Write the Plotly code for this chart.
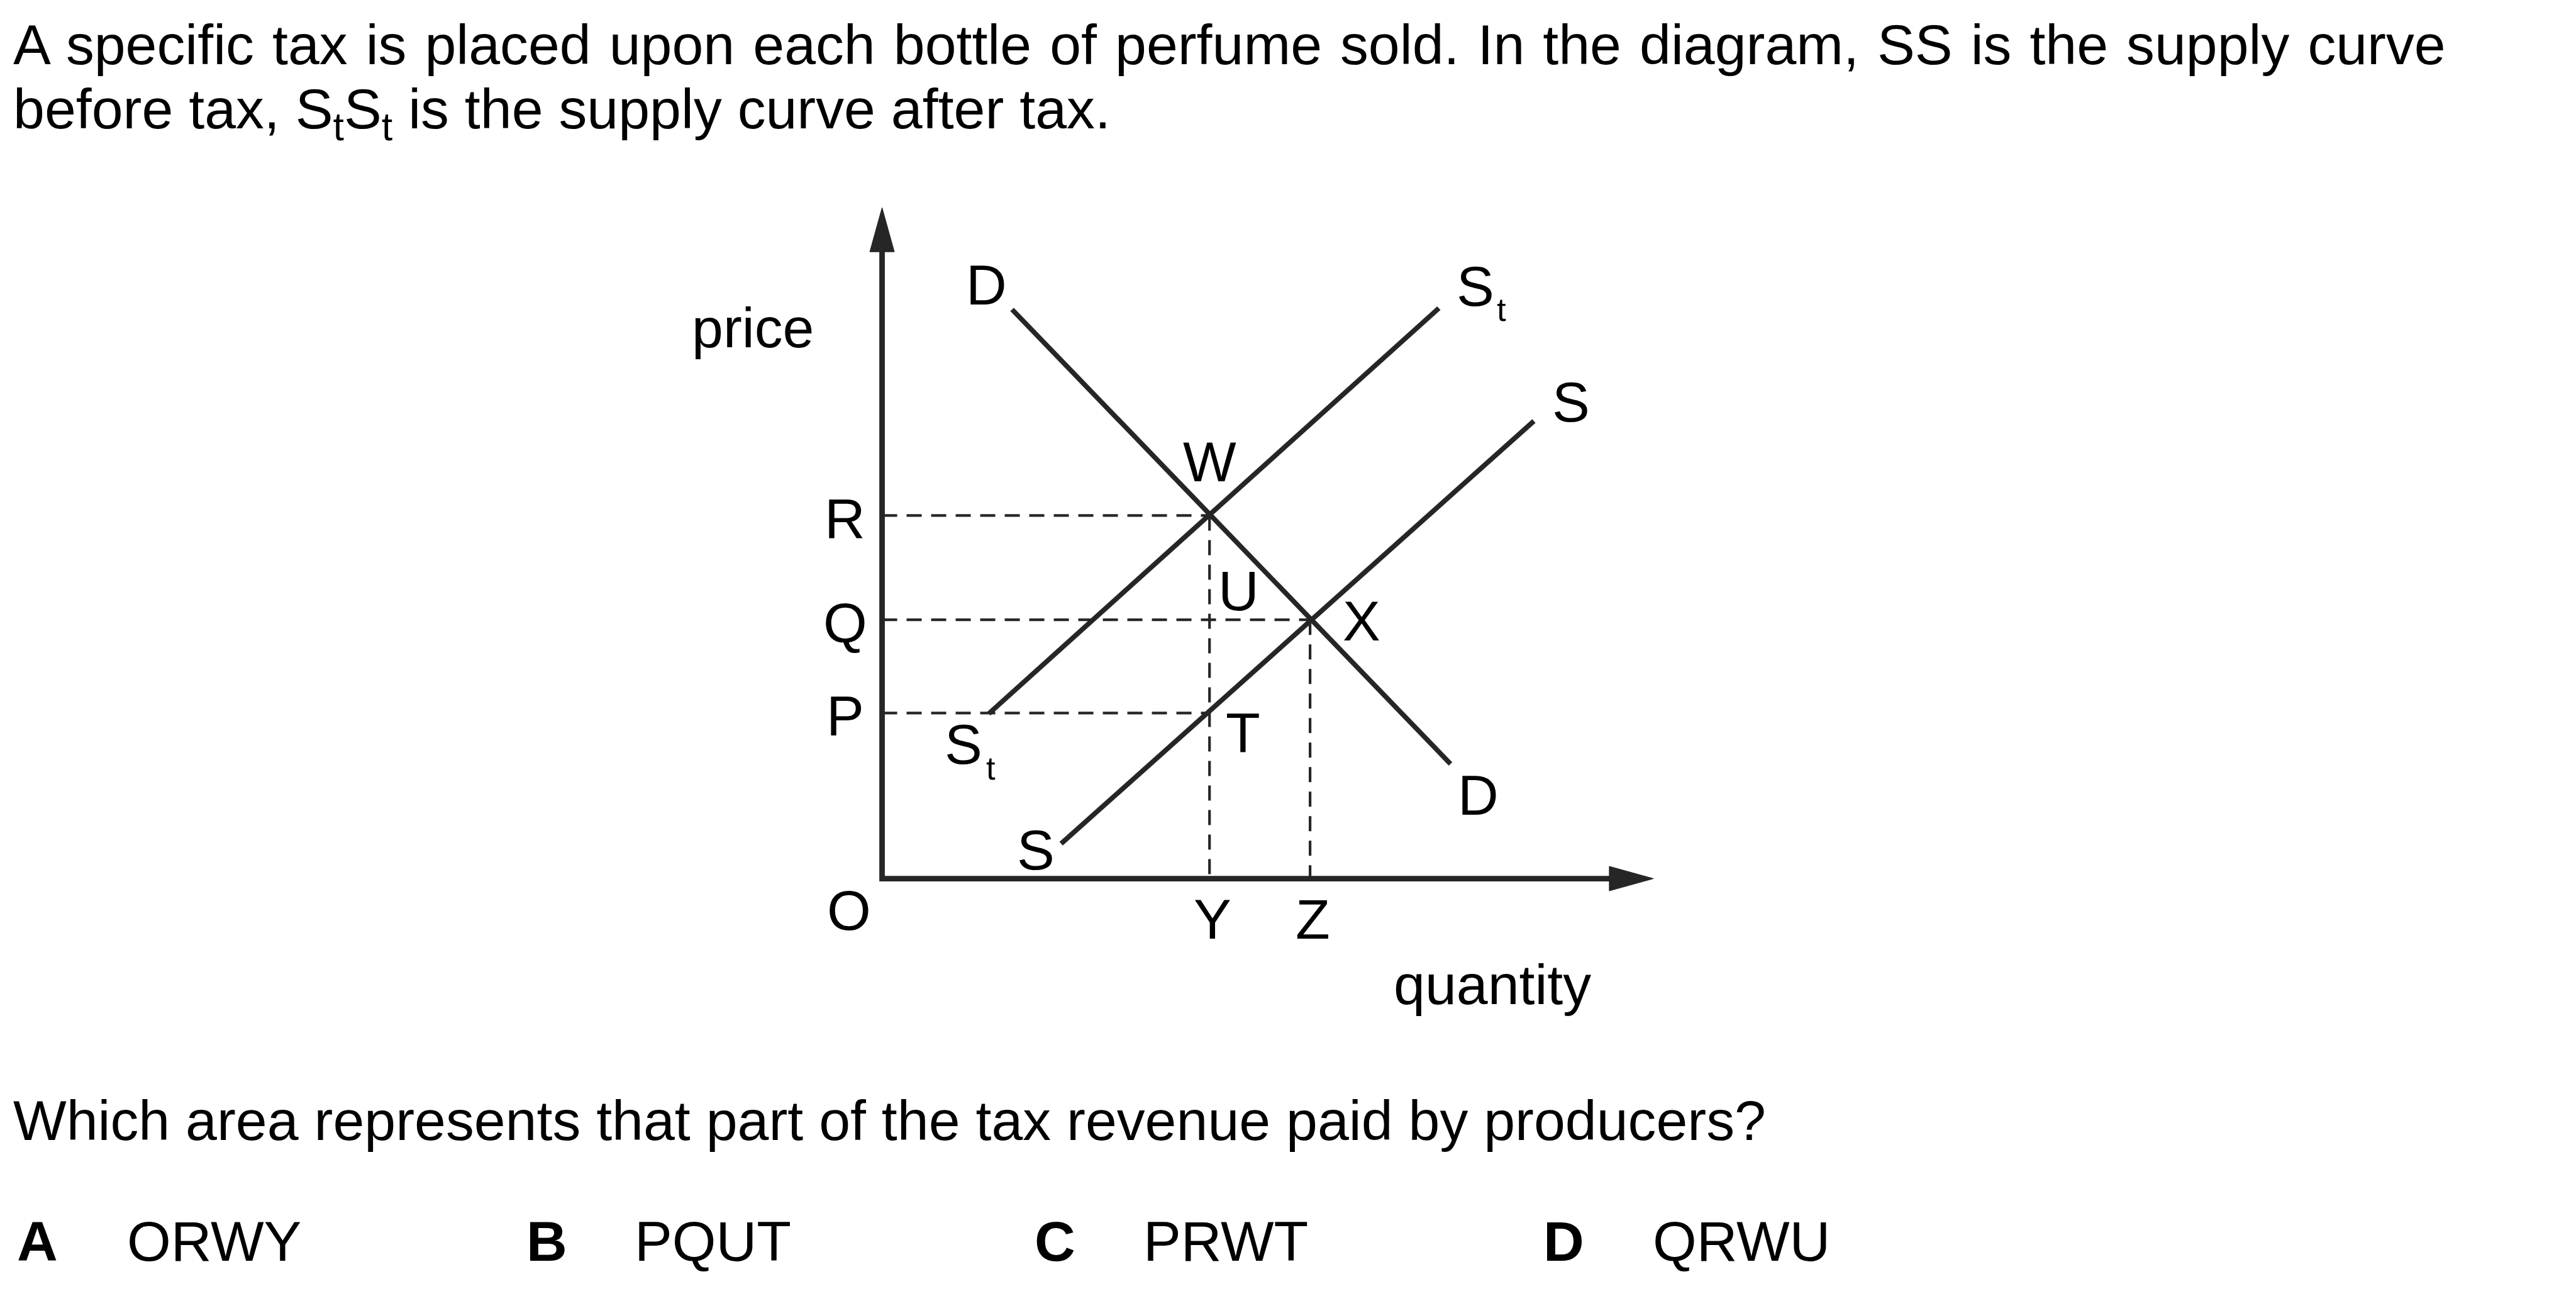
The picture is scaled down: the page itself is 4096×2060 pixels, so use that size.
import plotly.graph_objects as go

# ---------------- data (diagram units: reference pixels from origin O) ----------------
price_tick_labels = ["R", "Q", "P"]
price_tick_values = [592, 422, 270]
qty_tick_labels = ["Y", "Z"]
qty_tick_values = [534, 698]

demand_qty = [212, 927]
demand_price = [928, 187]
supply_tax_qty = [174, 908]
supply_tax_price = [269, 930]
supply_qty = [292, 1063]
supply_price = [57, 746]

axis_price_max = 1094   # arrow tip of price axis
axis_qty_max = 1258     # arrow tip of quantity axis

question_lines = [
    "A specific tax is placed upon each bottle of perfume sold. In the diagram, SS is the supply curve",
    "before tax, S<sub>t</sub>S<sub>t</sub> is the supply curve after tax.",
]
question_text = "Which area represents that part of the tax revenue paid by producers?"
option_letters = ["A", "B", "C", "D"]
option_answers = ["ORWY", "PQUT", "PRWT", "QRWU"]

# ---------------- layout constants ----------------
REF_W, REF_H = 4201, 2113
W, H = 4096, 2060
S = W / REF_W
OX, OY = 1438.5, 1432.5          # origin position in reference pixels
FONT = "Liberation Sans, Arial, Helvetica, sans-serif"
LINE = "#262626"
ASC = 0.905
FS = 92

fig = go.Figure()

# axes
arrow_len, arrow_half = 72, 20
fig.add_trace(go.Scatter(
    x=[0, 0, axis_qty_max - arrow_len + 6], y=[axis_price_max - arrow_len + 6, 0, 0],
    mode="lines", line=dict(color=LINE, width=9 * S), hoverinfo="skip", showlegend=False))
fig.add_trace(go.Scatter(
    x=[0, -arrow_half, arrow_half, 0],
    y=[axis_price_max, axis_price_max - arrow_len, axis_price_max - arrow_len, axis_price_max],
    mode="lines", fill="toself", fillcolor=LINE, line=dict(color=LINE, width=1),
    hoverinfo="skip", showlegend=False))
fig.add_trace(go.Scatter(
    x=[axis_qty_max, axis_qty_max - arrow_len, axis_qty_max - arrow_len, axis_qty_max],
    y=[0, arrow_half, -arrow_half, 0],
    mode="lines", fill="toself", fillcolor=LINE, line=dict(color=LINE, width=1),
    hoverinfo="skip", showlegend=False))

# dashed guide lines
dash = "%dpx,%dpx" % (round(25 * S), round(15 * S))
R, Qp, Pp = price_tick_values
Yq, Zq = qty_tick_values
guides = [
    ([0, Yq], [R, R]),
    ([0, Zq], [Qp, Qp]),
    ([0, Yq], [Pp, Pp]),
    ([Yq, Yq], [R, 0]),
    ([Zq, Zq], [Qp, 0]),
]
for gx, gy in guides:
    fig.add_trace(go.Scatter(x=gx, y=gy, mode="lines",
                             line=dict(color=LINE, width=4.3 * S, dash=dash),
                             hoverinfo="skip", showlegend=False))

# curves
for cx, cy in [(demand_qty, demand_price), (supply_tax_qty, supply_tax_price), (supply_qty, supply_price)]:
    fig.add_trace(go.Scatter(x=cx, y=cy, mode="lines",
                             line=dict(color=LINE, width=8 * S),
                             hoverinfo="skip", showlegend=False))

annotations = []


def label(text, xr, baseline, fs=FS, anchor="center"):
    """Place a label by reference-pixel x and baseline."""
    annotations.append(dict(
        x=xr - OX, y=OY - (baseline - ASC * fs), xref="x", yref="y",
        xanchor=anchor, yanchor="top", text=text, showarrow=False,
        borderpad=0, borderwidth=0,
        font=dict(family=FONT, size=fs * S, color="#000")))


def ptext(text, xr, baseline, fs=FS, bold=False, wspace=None):
    t = ("<b>%s</b>" % text) if bold else text
    if wspace:
        t = '<span style="word-spacing:%.1fpx">%s</span>' % (wspace * S, t)
    annotations.append(dict(
        x=xr / REF_W, y=1 - (baseline - ASC * fs) / REF_H, xref="paper", yref="paper",
        xanchor="left", yanchor="top", text=t,
        showarrow=False, borderpad=0, borderwidth=0,
        font=dict(family=FONT, size=fs * S, color="#000")))


# axis tick letters
for lab, val in zip(price_tick_labels, price_tick_values):
    base = OY - (val - 4) + 0.358 * FS
    label(lab, 1378, base)
for lab, val in zip(qty_tick_labels, qty_tick_values):
    label(lab, OX + val + 5, 1531)

label("O", 1385, 1516)
label("price", 1228, 566)
label("quantity", 2434, 1637)

# curve / point labels
label("D", 1609, 497)
label("D", 2411, 1328)
label("S", 2406, 499)
label("t", 2449, 523, fs=54)
label("S", 1571, 1245)
label("t", 1616, 1270, fs=54)
label("S", 2562, 687)
label("S", 1689, 1418)
label("W", 1973, 785)
label("U", 2020, 995)
label("X", 2221, 1044)
label("T", 2027, 1227)

# question text
ptext(question_lines[0], 22, 105, wspace=4.2)
ptext(question_lines[1], 22, 209)
ptext(question_text, 22, 1859)
letter_x = [28, 858, 1687, 2517]
answer_x = [207, 1035, 1865, 2695]
for lx, ax_, l, a in zip(letter_x, answer_x, option_letters, option_answers):
    ptext(l, lx, 2056, bold=True)
    ptext(a, ax_, 2056)

fig.update_layout(
    width=W, height=H, margin=dict(l=0, r=0, t=0, b=0),
    paper_bgcolor="white", plot_bgcolor="white",
    xaxis=dict(range=[-OX, REF_W - OX], visible=False, domain=[0, 1]),
    yaxis=dict(range=[OY - REF_H, OY], visible=False, domain=[0, 1]),
    annotations=annotations, showlegend=False,
)

fig.write_html("out.html",
               config={"displayModeBar": False, "staticPlot": True},
               post_script="document.body.style.margin='0';document.body.style.overflow='hidden';")
